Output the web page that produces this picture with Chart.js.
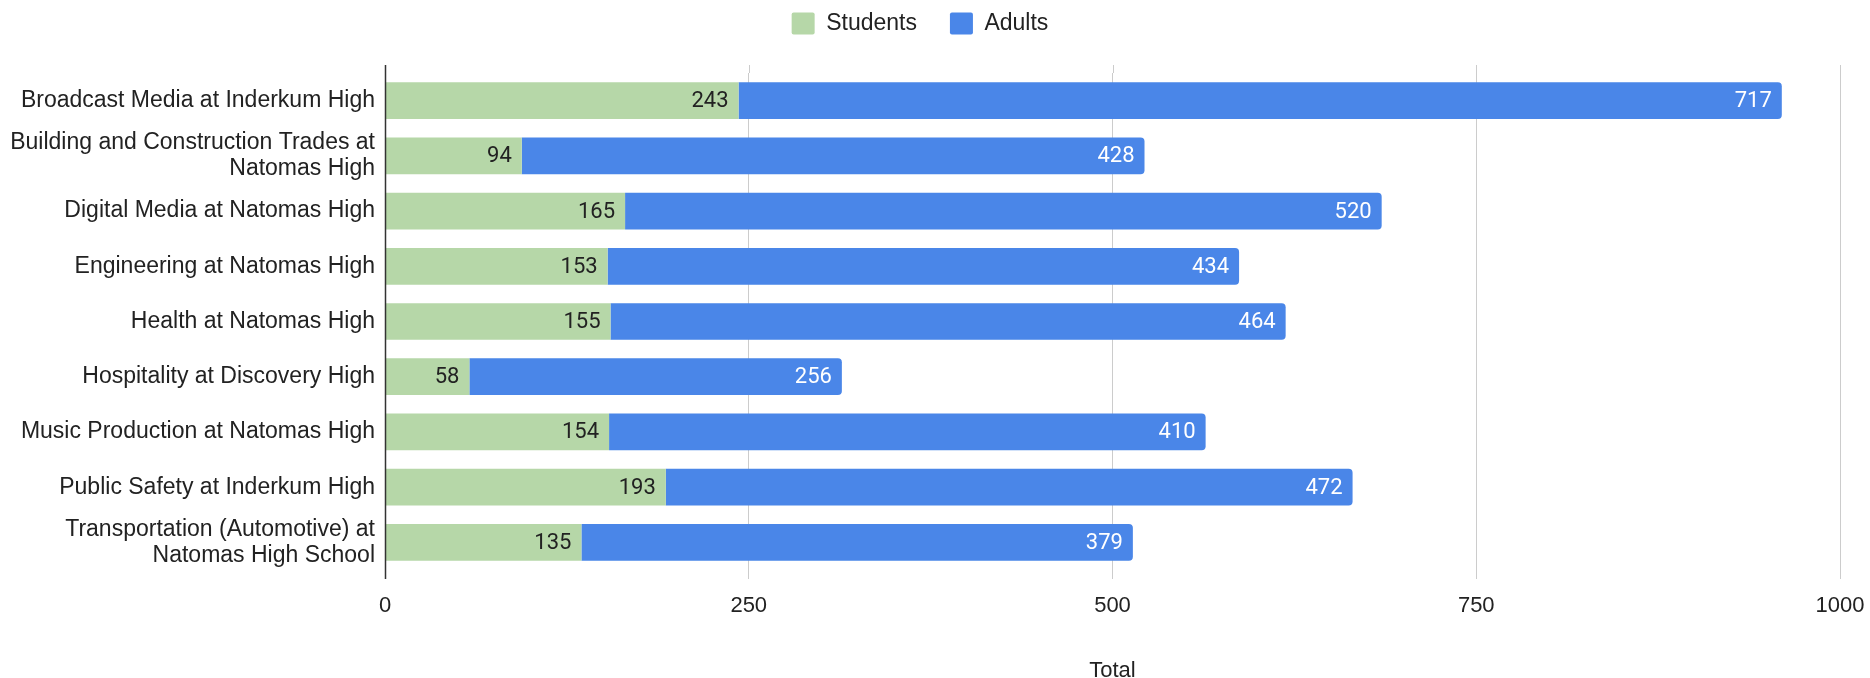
<!DOCTYPE html>
<html>
<head>
<meta charset="utf-8">
<script src="https://cdn.jsdelivr.net/npm/chart.js@4/dist/chart.umd.min.js"></script>
<style>
    html, body { margin: 0; padding: 0; background: #fff; }
    #wrap { width: 1870px; height: 678px; }
</style>
</head>
<body>
<div id="wrap"><canvas id="chart" width="1870" height="678"></canvas></div>
<script>
    "use strict";

    // Data
    const programs = [
        "Broadcast Media at Inderkum High",
        ["Building and Construction Trades at", "Natomas High"],
        "Digital Media at Natomas High",
        "Engineering at Natomas High",
        "Health at Natomas High",
        "Hospitality at Discovery High",
        "Music Production at Natomas High",
        "Public Safety at Inderkum High",
        ["Transportation (Automotive) at", "Natomas High School"]
    ];
    const students = [243, 94, 165, 153, 155, 58, 154, 193, 135];
    const adults = [717, 428, 520, 434, 464, 256, 410, 472, 379];
    const xTicks = [0, 250, 500, 750, 1000];

    const GREEN = "#b6d7a8";
    const BLUE = "#4a86e8";
    const TEXT = "#222222";
    const FAMILY = "'Liberation Sans', Arial, sans-serif";
    const labelFont = { family: FAMILY, size: 23, lineHeight: 1.15 };
    const tickFont = { family: FAMILY, size: 22 };

    // Value labels inside the end of each bar
    const barLabels = {
        id: "barLabels",
        afterDatasetsDraw: function (chart) {
            const ctx = chart.ctx;
            ctx.save();
            ctx.font = "22px Roboto, sans-serif";
            ctx.textAlign = "right";
            ctx.textBaseline = "middle";
            chart.data.datasets.forEach(function (ds, i) {
                const meta = chart.getDatasetMeta(i);
                ctx.fillStyle = i === 0 ? TEXT : "#ffffff";
                meta.data.forEach(function (bar, j) {
                    ctx.fillText(ds.data[j], bar.x - 10, bar.y + 1);
                });
            });
            ctx.restore();
        }
    };

    // Axis line and grid run a little above the plot area
    const gridExtend = {
        id: "gridExtend",
        beforeDatasetsDraw: function (chart) {
            const ctx = chart.ctx;
            const area = chart.chartArea;
            const x = chart.scales.x;
            ctx.save();
            ctx.lineWidth = 1;
            ctx.strokeStyle = "#cccccc";
            xTicks.forEach(function (v) {
                if (v === 0) return;
                const px = Math.round(x.getPixelForValue(v)) + 0.5;
                ctx.beginPath();
                ctx.moveTo(px, area.top - 8);
                ctx.lineTo(px, area.top);
                ctx.stroke();
            });
            ctx.restore();
        },
        afterDraw: function (chart) {
            const ctx = chart.ctx;
            const area = chart.chartArea;
            const px = Math.round(chart.scales.x.getPixelForValue(0)) + 0.5;
            ctx.save();
            ctx.lineWidth = 1.5;
            ctx.strokeStyle = "#333333";
            ctx.beginPath();
            ctx.moveTo(px, area.top - 8);
            ctx.lineTo(px, area.bottom + 9);
            ctx.stroke();
            ctx.restore();
        }
    };

    // Fixed legend height so the plot starts where the reference does
    const legendHeight = {
        id: "legendHeight",
        beforeInit: function (chart) {
            const fit = chart.legend.fit;
            chart.legend.fit = function () {
                fit.bind(chart.legend)();
                this.height = 94;
            };
        }
    };

    new Chart(document.getElementById("chart"), {
        type: "bar",
        data: {
            labels: programs,
            datasets: [{
                label: "Students",
                data: students,
                backgroundColor: GREEN,
                borderRadius: 0,
                barPercentage: 0.665,
                categoryPercentage: 1
            }, {
                label: "Adults",
                data: adults,
                backgroundColor: BLUE,
                borderRadius: 4,
                borderSkipped: "start",
                barPercentage: 0.665,
                categoryPercentage: 1
            }]
        },
        options: {
            indexAxis: "y",
            responsive: false,
            animation: false,
            layout: { padding: { top: -21, right: 30, bottom: 0, left: 0 } },
            plugins: {
                legend: {
                    position: "top",
                    labels: {
                        boxWidth: 23,
                        boxHeight: 22,
                        padding: 33,
                        useBorderRadius: true,
                        borderRadius: 2,
                        color: TEXT,
                        font: { family: FAMILY, size: 23 }
                    }
                },
                tooltip: { enabled: false }
            },
            scales: {
                x: {
                    stacked: true,
                    min: 0,
                    max: 1000,
                    afterBuildTicks: function (scale) {
                        scale.ticks = xTicks.map(function (v) { return { value: v }; });
                    },
                    afterFit: function (scale) {
                        scale.height = 108;
                        scale.paddingLeft = 0;
                        scale.paddingRight = 0;
                    },
                    grid: { color: "#cccccc", tickLength: 9, drawTicks: true },
                    border: { display: false },
                    ticks: {
                        color: TEXT,
                        font: tickFont,
                        padding: 14,
                        maxRotation: 0,
                        callback: function (v) { return String(v); }
                    },
                    title: {
                        display: true,
                        text: "Total",
                        color: TEXT,
                        font: tickFont,
                        padding: { top: 0, bottom: -6 }
                    }
                },
                y: {
                    stacked: true,
                    afterFit: function (scale) { scale.width = 385; },
                    grid: { display: false, drawTicks: false },
                    border: { display: false },
                    ticks: { color: TEXT, font: labelFont, padding: 10, autoSkip: false }
                }
            }
        },
        plugins: [barLabels, gridExtend, legendHeight]
    });
</script>
</body>
</html>
